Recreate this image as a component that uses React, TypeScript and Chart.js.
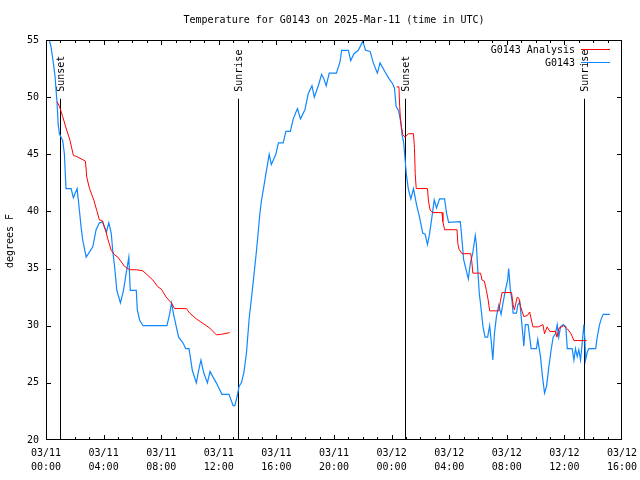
import React, { useEffect, useRef } from 'react';
import { Chart, registerables } from 'chart.js';

Chart.register(...registerables);

// Observed station temperature (hours since 03/11 00:00 UTC, degrees F)
const stationHours = [
  0.23, 0.35, 0.51, 0.63, 0.70, 0.77, 0.84, 0.93, 1.16, 1.28, 1.35, 1.39, 1.74, 1.90, 2.16, 2.32, 2.44, 2.55, 2.79,
  3.25, 3.48, 3.71, 3.94, 4.06, 4.20, 4.36, 4.53, 4.64, 4.76, 4.92, 5.17, 5.38, 5.57, 5.75, 5.85, 6.27, 6.34, 6.50,
  6.73, 8.40, 8.58, 8.72, 8.86, 9.05, 9.21, 9.51, 9.70, 9.93, 10.02, 10.16, 10.44, 10.60, 10.76, 10.95, 11.21,
  11.39, 11.60, 11.83, 12.02, 12.22, 12.71, 12.88, 12.99, 13.11, 13.27, 13.41, 13.57, 13.74, 13.92, 14.10, 14.38,
  14.62, 14.73, 14.85, 14.97, 15.13, 15.31, 15.50, 15.65, 15.96, 16.14, 16.47, 16.66, 16.97, 17.17, 17.46, 17.67,
  17.98, 18.21, 18.47, 18.63, 18.91, 19.14, 19.30, 19.46, 19.67, 20.17, 20.42, 20.53, 21.00, 21.16, 21.39, 21.69,
  22.00, 22.19, 22.51, 22.73, 23.01, 23.20, 23.55, 23.83, 24.06, 24.20, 24.31, 24.49, 24.64, 24.73, 24.84, 24.94,
  25.03, 25.17, 25.34, 25.52, 25.73, 25.94, 26.16, 26.33, 26.49, 26.63, 26.80, 26.96, 27.12, 27.33, 27.68, 27.82,
  27.96, 28.77, 28.89, 29.00, 29.17, 29.33, 29.47, 29.63, 29.81, 29.88, 29.97, 30.09, 30.16, 30.35, 30.49, 30.67,
  30.81, 30.93, 31.03, 31.14, 31.28, 31.44, 31.60, 31.74, 31.90, 32.06, 32.13, 32.25, 32.37, 32.44, 32.67, 32.76,
  32.90, 32.99, 33.13, 33.18, 33.29, 33.48, 33.59, 33.69, 34.06, 34.15, 34.25, 34.34, 34.48, 34.62, 34.76, 34.92,
  35.08, 35.22, 35.38, 35.50, 35.61, 35.73, 35.92, 36.10, 36.20, 36.54, 36.66, 36.77, 36.89, 37.00, 37.12, 37.26,
  37.35, 37.42, 37.47, 37.59, 37.70, 38.17, 38.28, 38.44, 38.56, 38.70, 39.16,
];
const stationTemps = [
  55.0, 54.4, 53.0, 51.8, 50.6, 49.5, 47.7, 46.8, 46.2, 45.0, 43.0, 42.0, 42.0, 41.2, 42.0, 40.1, 38.6, 37.5, 36.0,
  36.9, 38.4, 39.0, 39.1, 38.6, 38.2, 39.0, 38.1, 36.5, 35.2, 33.1, 32.0, 33.1, 34.6, 36.0, 33.1, 33.1, 31.4, 30.5,
  30.0, 30.0, 31.0, 32.0, 31.0, 29.9, 29.0, 28.5, 28.0, 28.0, 27.3, 26.1, 25.0, 26.1, 27.0, 25.9, 25.0,
  26.0, 25.5, 25.0, 24.5, 24.0, 24.0, 23.4, 23.0, 23.0, 23.8, 24.7, 25.0, 25.9, 27.6, 30.5, 33.7,
  36.6, 38.1, 39.8, 41.0, 42.2, 43.6, 45.0, 44.1, 45.0, 46.0, 46.0, 47.0, 47.0, 48.1, 49.0, 48.1,
  48.9, 50.3, 51.0, 50.0, 51.0, 52.0, 51.6, 51.0, 52.1, 52.1, 53.1, 54.1, 54.1, 53.2, 53.8, 54.1,
  54.9, 54.1, 54.0, 53.0, 52.1, 53.0, 52.2, 51.6, 51.2, 50.8, 49.2, 48.8, 47.8, 46.7, 46.0, 44.5,
  43.2, 41.9, 41.1, 42.0, 40.6, 39.5, 38.1, 38.0, 37.1, 38.0, 39.5, 41.0, 40.3, 41.1, 41.1, 39.8,
  39.05, 39.1, 37.5, 35.8, 34.9, 34.1, 35.5, 36.3, 37.9, 37.2, 35.2, 32.8, 32.1, 29.9, 29.0, 29.0,
  30.0, 28.5, 27.0, 29.3, 30.8, 31.8, 31.0, 32.0, 33.1, 34.0, 35.0, 33.1, 32.1, 31.1, 31.1, 31.8,
  32.1, 30.9, 29.0, 28.2, 30.1, 30.1, 29.0, 28.0, 28.0, 28.8, 28.0, 27.3, 25.5, 24.1, 24.7, 26.4,
  27.9, 29.0, 29.3, 30.1, 29.0, 29.9, 30.1, 29.9, 28.0, 28.0, 27.0, 28.0, 27.3, 27.9, 27.0, 28.8,
  30.1, 28.8, 27.0, 27.7, 28.0, 28.0, 29.0, 30.1, 30.6, 31.0, 31.0,
];

// Analysis temperature, first run
const analysisHoursA = [
  0.77, 0.93, 1.16, 1.39, 1.67, 1.90, 2.13, 2.74, 2.83, 3.02, 3.32, 3.52, 3.71, 3.90, 4.13, 4.29, 4.53, 4.76, 4.99,
  5.45, 5.80, 6.27, 6.73, 7.07, 7.42, 7.77, 8.01, 8.35, 8.70, 8.93, 9.75, 9.98, 10.44, 10.90, 11.37, 11.83, 12.18,
  12.76,
];
const analysisTempsA = [
  49.6, 49.2, 48.3, 47.3, 46.2, 44.9, 44.8, 44.4, 43.0, 42.0, 41.0, 40.1, 39.25, 39.2, 38.4, 37.6, 36.6, 36.2, 36.0,
  35.2, 34.9, 34.9, 34.8, 34.4, 34.0, 33.4, 33.2, 32.5, 32.0, 31.5, 31.5, 31.1, 30.6, 30.2, 29.8, 29.2, 29.25,
  29.4,
];
// Analysis temperature, second run
const analysisHoursB = [
  24.35, 24.51, 24.56, 24.61, 24.68, 24.78, 24.94, 25.17, 25.52, 25.59, 25.64, 25.71, 26.49, 26.56, 26.68, 26.87,
  27.50, 27.56, 27.68, 28.54, 28.60, 28.68, 28.89, 29.50, 29.57, 29.64, 30.18, 30.28, 30.44, 30.58, 30.70, 30.81,
  31.44, 31.55, 31.67, 32.33, 32.44, 32.53, 32.72, 32.84, 32.95, 33.18, 33.43, 33.59, 33.69, 33.82, 34.20, 34.51,
  34.62, 34.80, 34.99, 35.38, 35.48, 35.63, 35.96, 36.22, 36.46, 36.66, 37.54,
];
const analysisTempsB = [
  50.9, 50.9, 49.2, 48.2, 47.4, 46.7, 46.5, 46.8, 46.8, 45.5, 43.3, 42.0, 42.0, 40.9, 40.1, 39.9,
  39.9, 39.1, 38.4, 38.4, 37.2, 36.7, 36.3, 36.3, 35.6, 34.6, 34.6, 34.0, 33.9, 33.1, 32.3, 31.3,
  31.3, 32.1, 32.9, 32.9, 31.8, 31.4, 32.5, 32.4, 31.7, 30.8, 30.9, 31.2, 30.6, 29.9, 29.9, 30.1,
  29.3, 29.9, 29.5, 29.5, 29.0, 29.8, 30.0, 29.7, 29.3, 28.7, 28.7,
];

const tickDates = ['03/11', '03/11', '03/11', '03/11', '03/11', '03/11', '03/12', '03/12', '03/12', '03/12', '03/12'];
const tickTimes = ['00:00', '04:00', '08:00', '12:00', '16:00', '20:00', '00:00', '04:00', '08:00', '12:00', '16:00'];

const sunEventHours = [0.95, 13.34, 24.96, 37.35];
const sunEventLabels = ['Sunset', 'Sunrise', 'Sunset', 'Sunrise'];
const sunLineTop = 49.86;

const titleText = 'Temperature for G0143 on 2025-Mar-11 (time in UTC)';
const yTitleText = 'degrees F';
const legendLabels = ['G0143 Analysis', 'G0143'];
const seriesColors = ['#ff0000', '#1088ff'];

const MONO = '"DejaVu Sans Mono", "Liberation Mono", monospace';

const toPoints = (xs: number[], ys: number[]) => xs.map((x, i) => ({ x, y: ys[i] }));

const gnuplotPlugin = {
  id: 'gnuplotDecor',
  beforeDatasetsDraw(chart: any) {
    const { ctx, chartArea, scales } = chart;
    const xs = scales.x;
    const ys = scales.y;
    ctx.save();
    ctx.strokeStyle = '#000';
    ctx.lineWidth = 1;
    ctx.fillStyle = '#000';
    ctx.font = `10px ${MONO}`;
    sunEventHours.forEach((h, i) => {
      const px = Math.round(xs.getPixelForValue(h)) + 0.5;
      const yTop = ys.getPixelForValue(sunLineTop);
      ctx.beginPath();
      ctx.moveTo(px, chartArea.bottom);
      ctx.lineTo(px, yTop);
      ctx.stroke();
      ctx.save();
      ctx.translate(px + 0.5, yTop - 7);
      ctx.rotate(-Math.PI / 2);
      ctx.textAlign = 'left';
      ctx.textBaseline = 'middle';
      ctx.fillText(sunEventLabels[i], 0, 0);
      ctx.restore();
    });
    ctx.restore();
  },
  afterDraw(chart: any) {
    const { ctx, chartArea, scales } = chart;
    const { left, right, top, bottom } = chartArea;
    const xs = scales.x;
    const ys = scales.y;
    ctx.save();
    ctx.strokeStyle = '#000';
    ctx.lineWidth = 1;
    // frame
    ctx.strokeRect(left + 0.5, top + 0.5, right - left - 1, bottom - top - 1);
    // x ticks (major every 4h, minor every hour)
    ctx.beginPath();
    for (let h = 1; h < 40; h++) {
      const len = h % 4 === 0 ? 5 : 3;
      const px = Math.round(xs.getPixelForValue(h)) + 0.5;
      ctx.moveTo(px, bottom);
      ctx.lineTo(px, bottom - len);
      ctx.moveTo(px, top);
      ctx.lineTo(px, top + len);
    }
    // y ticks
    for (let v = 25; v < 55; v += 5) {
      const py = Math.round(ys.getPixelForValue(v)) + 0.5;
      ctx.moveTo(left, py);
      ctx.lineTo(left + 5, py);
      ctx.moveTo(right, py);
      ctx.lineTo(right - 5, py);
    }
    ctx.stroke();

    ctx.fillStyle = '#000';
    ctx.font = `10px ${MONO}`;
    // title
    ctx.textAlign = 'center';
    ctx.textBaseline = 'middle';
    ctx.fillText(titleText, (left + right) / 2, 20);
    // y title
    ctx.save();
    ctx.translate(10.5, 241);
    ctx.rotate(-Math.PI / 2);
    ctx.fillText(yTitleText, 0, 0);
    ctx.restore();
    // legend
    ctx.textAlign = 'right';
    legendLabels.forEach((lab, i) => {
      const y = 50 + i * 13;
      ctx.fillStyle = '#000';
      ctx.fillText(lab, 575, y);
      ctx.strokeStyle = seriesColors[i];
      ctx.beginPath();
      ctx.moveTo(581, Math.round(y - 1) + 0.5);
      ctx.lineTo(610, Math.round(y - 1) + 0.5);
      ctx.stroke();
    });
    ctx.restore();
  },
};

export default function App() {
  const canvasRef = useRef<HTMLCanvasElement | null>(null);

  useEffect(() => {
    document.body.style.margin = '0';
    const canvas = canvasRef.current;
    if (!canvas) return;
    const analysisData = [
      ...toPoints(analysisHoursA, analysisTempsA),
      { x: 18, y: null as any },
      ...toPoints(analysisHoursB, analysisTempsB),
    ];
    const chart = new Chart(canvas, {
      type: 'line',
      data: {
        datasets: [
          {
            label: legendLabels[0],
            data: analysisData,
            borderColor: seriesColors[0],
            borderWidth: 1,
            pointRadius: 0,
            tension: 0,
            spanGaps: false,
          },
          {
            label: legendLabels[1],
            data: toPoints(stationHours, stationTemps),
            borderColor: seriesColors[1],
            borderWidth: 1.2,
            pointRadius: 0,
            tension: 0,
          },
        ],
      },
      options: {
        responsive: false,
        animation: false,
        events: [],
        layout: { padding: { top: 40, right: 18, left: 0, bottom: 0 } },
        plugins: {
          legend: { display: false },
          title: { display: false },
          tooltip: { enabled: false },
        },
        scales: {
          x: {
            type: 'linear',
            min: 0,
            max: 40,
            grid: { display: false, drawTicks: false },
            border: { display: false },
            afterFit: (s: any) => {
              s.height = 40;
              s.paddingLeft = 0;
              s.paddingRight = 0;
            },
            ticks: {
              stepSize: 4,
              autoSkip: false,
              maxRotation: 0,
              padding: 7,
              color: '#000',
              font: { family: MONO, size: 10, lineHeight: 1.35 },
              callback: (_v: any, i: number) => [tickDates[i], tickTimes[i]],
            },
          },
          y: {
            type: 'linear',
            min: 20,
            max: 55,
            grid: { display: false, drawTicks: false },
            border: { display: false },
            afterFit: (s: any) => {
              s.width = 46;
              s.paddingTop = 0;
              s.paddingBottom = 0;
            },
            ticks: {
              stepSize: 5,
              padding: 7,
              color: '#000',
              font: { family: MONO, size: 10 },
            },
          },
        },
      },
      plugins: [gnuplotPlugin],
    });
    return () => chart.destroy();
  }, []);

  return (
    <div style={{ width: 640, height: 480 }}>
      <canvas ref={canvasRef} width={640} height={480} style={{ display: 'block' }} />
    </div>
  );
}
